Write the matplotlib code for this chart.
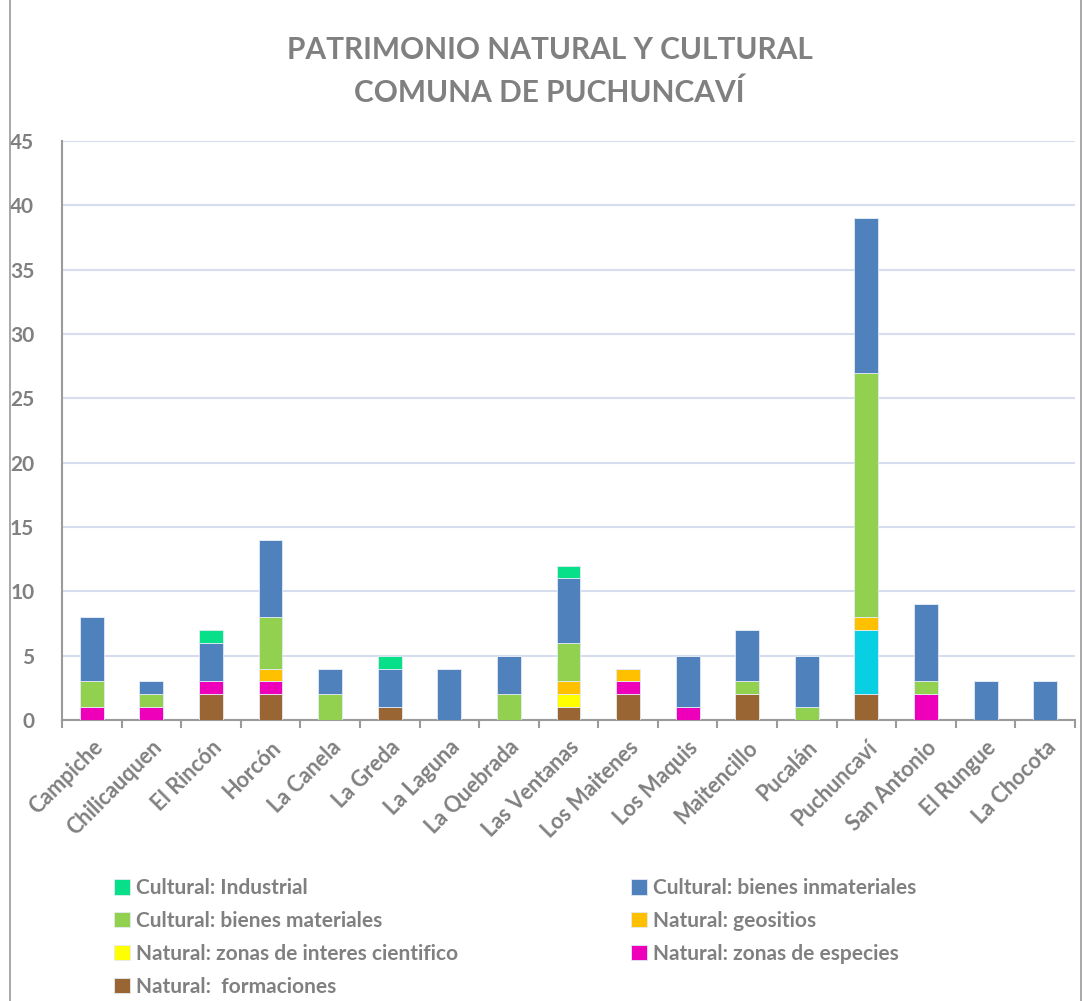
import numpy as np
import matplotlib.pyplot as plt
from matplotlib.patches import Rectangle

plt.rcParams['font.family'] = ['Lato', 'DejaVu Sans']

localidades = ["Campiche", "Chilicauquen", "El Rincón", "Horcón", "La Canela",
               "La Greda", "La Laguna", "La Quebrada", "Las Ventanas", "Los Maitenes",
               "Los Maquis", "Maitencillo", "Pucalán", "Puchuncaví", "San Antonio",
               "El Rungue", "La Chocota"]

# series (de abajo hacia arriba)
formaciones = [0, 0, 2, 2, 0, 1, 0, 0, 1, 2, 0, 2, 0, 2, 0, 0, 0]
sin_nombre = [0, 0, 0, 0, 0, 0, 0, 0, 0, 0, 0, 0, 0, 5, 0, 0, 0]
especies = [1, 1, 1, 1, 0, 0, 0, 0, 0, 1, 1, 0, 0, 0, 2, 0, 0]
cientifico = [0, 0, 0, 0, 0, 0, 0, 0, 1, 0, 0, 0, 0, 0, 0, 0, 0]
geositios = [0, 0, 0, 1, 0, 0, 0, 0, 1, 1, 0, 0, 0, 1, 0, 0, 0]
materiales = [2, 1, 0, 4, 2, 0, 0, 2, 3, 0, 0, 1, 1, 19, 1, 0, 0]
inmateriales = [5, 1, 3, 6, 2, 3, 4, 3, 5, 0, 4, 4, 4, 12, 6, 3, 3]
industrial = [0, 0, 1, 0, 0, 1, 0, 0, 1, 0, 0, 0, 0, 0, 0, 0, 0]

series = [
    (formaciones, "#996633", "Natural:  formaciones"),
    (sin_nombre, "#08D0E2", None),
    (especies, "#EE00BB", "Natural: zonas de especies"),
    (cientifico, "#FFFF00", "Natural: zonas de interes cientifico"),
    (geositios, "#FFC000", "Natural: geositios"),
    (materiales, "#92D050", "Cultural: bienes materiales"),
    (inmateriales, "#4F81BD", "Cultural: bienes inmateriales"),
    (industrial, "#07E088", "Cultural: Industrial"),
]

gris = "#808080"

fig = plt.figure(figsize=(10.82, 10.01), dpi=100)
ax = fig.add_axes([0.0573, 0.2807, 0.9362, 0.5784])

x = np.arange(len(localidades))
base = np.zeros(len(localidades))
handles = {}
for vals, color, label in series:
    v = np.array(vals, dtype=float)
    b = ax.bar(x, v, 0.4, bottom=base, color=color, edgecolor="#E4EAF4",
               linewidth=0.6, zorder=3)
    if label:
        handles[label] = b
    base += v

ax.set_xlim(-0.5, len(localidades) - 0.5)
ax.set_ylim(0, 45)
ax.set_yticks(np.arange(0, 46, 5))
ax.grid(axis="y", color="#D5DDEE", linewidth=1.5, zorder=0)

for s in ["top", "right"]:
    ax.spines[s].set_visible(False)
ax.spines["left"].set_color("#9A9A9A")
ax.spines["bottom"].set_color("#9A9A9A")
ax.spines["left"].set_linewidth(1.5)
ax.spines["bottom"].set_linewidth(1.5)

ax.set_xticks(x)
ax.set_xticklabels(localidades, rotation=45, ha="right", rotation_mode="anchor",
                   fontsize=15.5, fontweight="bold", color=gris)
ax.set_xticks(np.arange(-0.5, len(localidades), 1), minor=True)
ax.tick_params(axis="x", which="major", length=0, pad=12)
ax.tick_params(axis="x", which="minor", length=6, width=1.5, color="#9A9A9A")
ax.tick_params(axis="y", length=0, labelsize=15, labelcolor=gris, pad=20)
for t in ax.get_yticklabels():
    t.set_fontweight("bold")

fig.text(0.508, 0.95, "PATRIMONIO NATURAL Y CULTURAL", ha="center", va="center",
         fontsize=21.5, fontweight="bold", color=gris)
fig.text(0.508, 0.907, "COMUNA DE PUCHUNCAVÍ", ha="center", va="center",
         fontsize=21.5, fontweight="bold", color=gris)

orden = ["Cultural: Industrial", "Cultural: bienes materiales",
         "Natural: zonas de interes cientifico", "Natural:  formaciones",
         "Cultural: bienes inmateriales", "Natural: geositios",
         "Natural: zonas de especies"]
leg = fig.legend([handles[k] for k in orden], orden, ncol=2,
                 loc="upper left", bbox_to_anchor=(0.098, 0.131),
                 frameon=False, fontsize=15, handlelength=0.75, handleheight=0.75,
                 handletextpad=0.3, columnspacing=8.3, labelspacing=0.62,
                 borderaxespad=0)
for t in leg.get_texts():
    t.set_color(gris)
    t.set_fontweight("bold")

fig.patches.append(Rectangle((0.0095, -0.01), 0.99, 1.05, transform=fig.transFigure,
                             fill=False, edgecolor="#9A9A9A", linewidth=1.2))

fig.savefig("out.png", dpi=100)
